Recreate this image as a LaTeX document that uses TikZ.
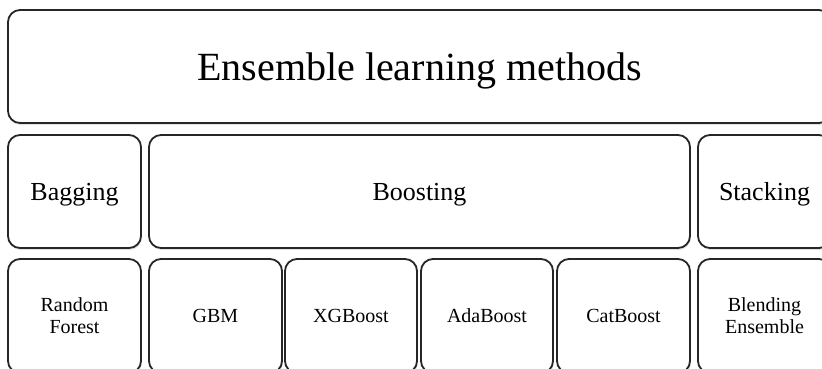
\documentclass[tikz,border=0pt]{standalone}
\usepackage{fontspec}
\setmainfont{Liberation Serif}
\usetikzlibrary{shadows}

\begin{document}
\begin{tikzpicture}[x=1pt, y=-1pt,
    % ---- styles ----
    M/.style={draw=black!85, fill=white, rounded corners=12pt, line width=1.8pt,
              inner sep=2pt, align=center, text=black, text depth=0pt,
              drop shadow={opacity=0.22, shadow xshift=0.8pt, shadow yshift=-2pt}},
    R/.style={M, minimum width=823pt, minimum height=113pt,
              font=\fontsize{40}{46}\selectfont},
    G/.style={M, minimum width=#1, minimum height=113pt,
              font=\fontsize{26}{30}\selectfont},
    L/.style={M, minimum width=#1, minimum height=114pt,
              font=\fontsize{20}{22}\selectfont},
]
\clip (0,0) rectangle (822,368);

% ===== Row 1: root =====
\node[R] (root) at (419.5,66.5) {Ensemble learning methods};

% ===== Row 2: families =====
\node[G=133pt] (bag)   at (74.5,191.5)  {Bagging};
\node[G=541pt] (boost) at (419.5,191.5) {Boosting};
\node[G=133pt] (stack) at (764.5,191.5) {Stacking};

% ===== Row 3: methods =====
\node[L=133pt] (rf)    at (74.5,316)  {Random\\Forest};
\node[L=133pt] (gbm)   at (215.5,316) {GBM};
\node[L=132pt] (xgb)   at (351,316)   {XGBoost};
\node[L=132pt] (ada)   at (487,316)   {AdaBoost};
\node[L=133pt] (catb)  at (623.5,316) {CatBoost};
\node[L=133pt] (blend) at (764.5,316) {Blending\\Ensemble};

\end{tikzpicture}
\end{document}
